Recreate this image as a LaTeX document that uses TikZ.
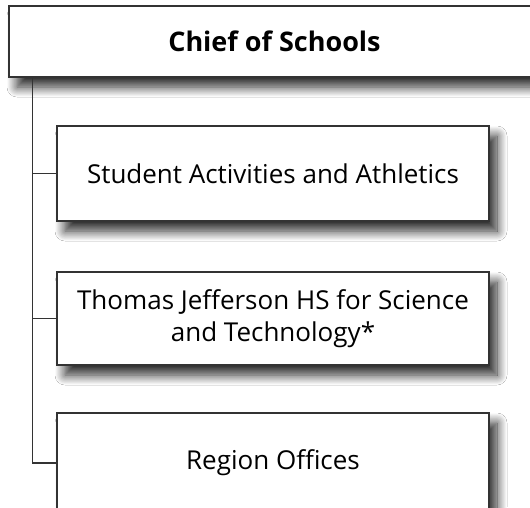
\documentclass[tikz,border=0pt]{standalone}
\usepackage{fontspec}
\setmainfont{Open Sans}
\usetikzlibrary{shadows.blur}

\begin{document}
\begin{tikzpicture}[x=1pt,y=-1pt]
\tikzset{boite/.style={draw=black!80, line width=1.3pt, fill=white, minimum width=432pt, align=center, font=\fontsize{26}{32}\selectfont, blur shadow={shadow xshift=8pt, shadow yshift=-10pt, shadow blur radius=10pt, shadow blur steps=16, shadow opacity=85}}}
\tikzset{trait/.style={draw=black!80, line width=1.2pt}}
\useasboundingbox (0,0) rectangle (530,507);
\clip (0,0) rectangle (530,507);
\fill[white] (0,0) rectangle (530,507);
\node[boite, minimum width=531pt, minimum height=71pt, font=\fontsize{27}{32}\selectfont\bfseries] (C) at (274.5,41.5) {Chief of Schools};
\node[boite, minimum height=95pt] (B1) at (273,173.5) {Student Activities and Athletics};
\node[boite, minimum height=93pt] (B2) at (273,318.5) {Thomas Jefferson HS for Science\\and Technology*};
\node[boite, minimum height=100pt] (B3) at (273,463) {Region Offices};
\coordinate (tronc) at ([xshift=24pt]C.south west);
\draw[trait] (tronc) |- (B3.west);
\draw[trait] (tronc |- B1.west) -- (B1.west);
\draw[trait] (tronc |- B2.west) -- (B2.west);
\end{tikzpicture}
\end{document}
